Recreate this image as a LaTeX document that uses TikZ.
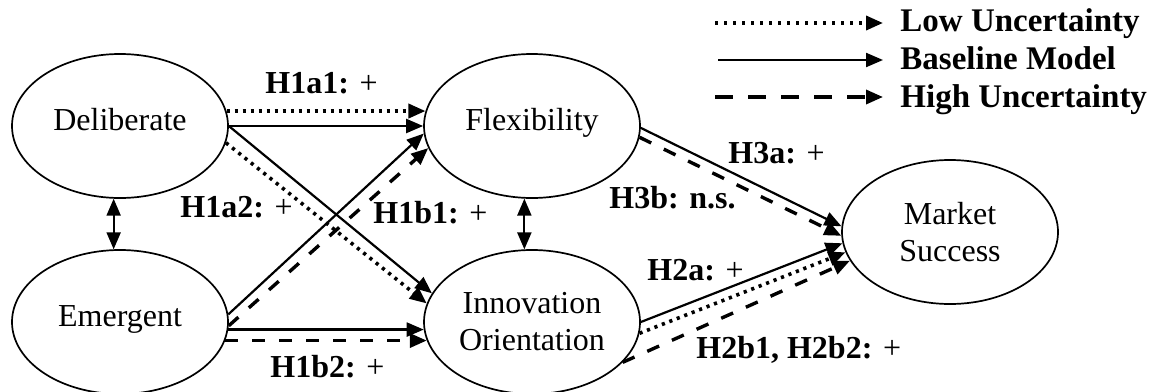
\documentclass[tikz,border=0pt]{standalone}
\usepackage{fontspec}
\setmainfont{Liberation Serif}
\usetikzlibrary{arrows.meta,shapes.geometric}
\begin{document}
\begin{tikzpicture}[x=0.5pt,y=-0.5pt,
  var/.style={ellipse,draw,line width=0.85pt,minimum width=108pt,minimum height=72pt,inner sep=0pt,align=center,font=\fontsize{16}{18.5}\selectfont},
  oneline/.style={text height=8pt,text depth=4pt},
  lbl/.style={anchor=base west,inner sep=0pt,font=\fontsize{16}{18.5}\selectfont},
  leg/.style={anchor=base west,inner sep=0pt,font=\fontsize{16.5}{19}\selectfont\bfseries},
  arrtip/.style={-{Triangle[length=8.5pt,width=7pt]}},
  arrbase/.style={arrtip,line width=1.1pt},
  arrlow/.style={arrtip,line width=1.8pt,dash pattern=on 1.6pt off 2.4pt},
  arrhigh/.style={arrtip,line width=1.7pt,dash pattern=on 6.5pt off 7pt},
  arrboth/.style={{Triangle[length=8.5pt,width=7pt]}-{Triangle[length=8.5pt,width=7pt]},line width=1.1pt}
]
\useasboundingbox (0,0) rectangle (1155,391);

% variables
\node[var,oneline] (del) at (120,126) {Deliberate};
\node[var,oneline] (flex) at (532,126) {Flexibility};
\node[var,oneline] (emer) at (120,322) {Emergent};
\node[var] (inno) at (532,322) {Innovation\\Orientation};
\node[var] (mkt) at (950,232) {Market\\Success};

% H1a1
\draw[arrlow] (del.8) -- (flex.172);
\draw[arrbase] (del.0) -- (flex.180);
% H1a2
\draw[arrbase] (del.0) -- (inno.164);
\draw[arrlow] (del.-9) -- (inno.170);
% H1b1
\draw[arrbase] (emer.4) -- (flex.184);
\draw[arrhigh] (emer.-2) -- (flex.192);
% H1b2
\draw[arrbase] (emer.-4) -- (inno.184);
\draw[arrhigh] (emer.-10) -- (inno.190);
% H3
\draw[arrbase] (flex.-1) -- (mkt.177);
\draw[arrhigh] (flex.-6) -- (mkt.182);
% H2
\draw[arrbase] (inno.0) -- (mkt.186);
\draw[arrlow] (inno.-6) -- (mkt.191);
\draw[arrhigh] (inno.-24) -- (mkt.196);
% correlations
\draw[arrboth] (del.265) -- (emer.95);
\draw[arrboth] (flex.264) -- (inno.96);

% labels
\node[lbl] (h1a1) at (265,93) {\textbf{H1a1:} +};
\node[lbl] (h1a2) at (180,217) {\textbf{H1a2:} +};
\node[lbl] (h1b1) at (373,223) {\textbf{H1b1:} +};
\node[lbl] (h1b2) at (270,377) {\textbf{H1b2:} +};
\node[lbl] (h3a) at (728,163) {\textbf{H3a:} +};
\node[lbl] (h3b) at (609,208) {\textbf{H3b: n.s.}};
\node[lbl] (h2a) at (647,280) {\textbf{H2a:} +};
\node[lbl] (h2b) at (696,358) {\textbf{H2b1, H2b2:} +};

% legend
\coordinate (l1a) at (715,23); \coordinate (l1b) at (883,23);
\coordinate (l2a) at (718,60); \coordinate (l2b) at (883,60);
\coordinate (l3a) at (715,97); \coordinate (l3b) at (883,97);
\draw[arrlow,dash pattern=on 1.6pt off 2.9pt] (l1a) -- (l1b);
\draw[arrbase] (l2a) -- (l2b);
\draw[arrhigh,dash pattern=on 9pt off 7.5pt] (l3a) -- (l3b);
\node[leg] (lt1) at (900,32) {Low Uncertainty};
\node[leg] (lt2) at (900,69.5) {Baseline Model};
\node[leg] (lt3) at (900,107) {High Uncertainty};
\end{tikzpicture}
\end{document}
